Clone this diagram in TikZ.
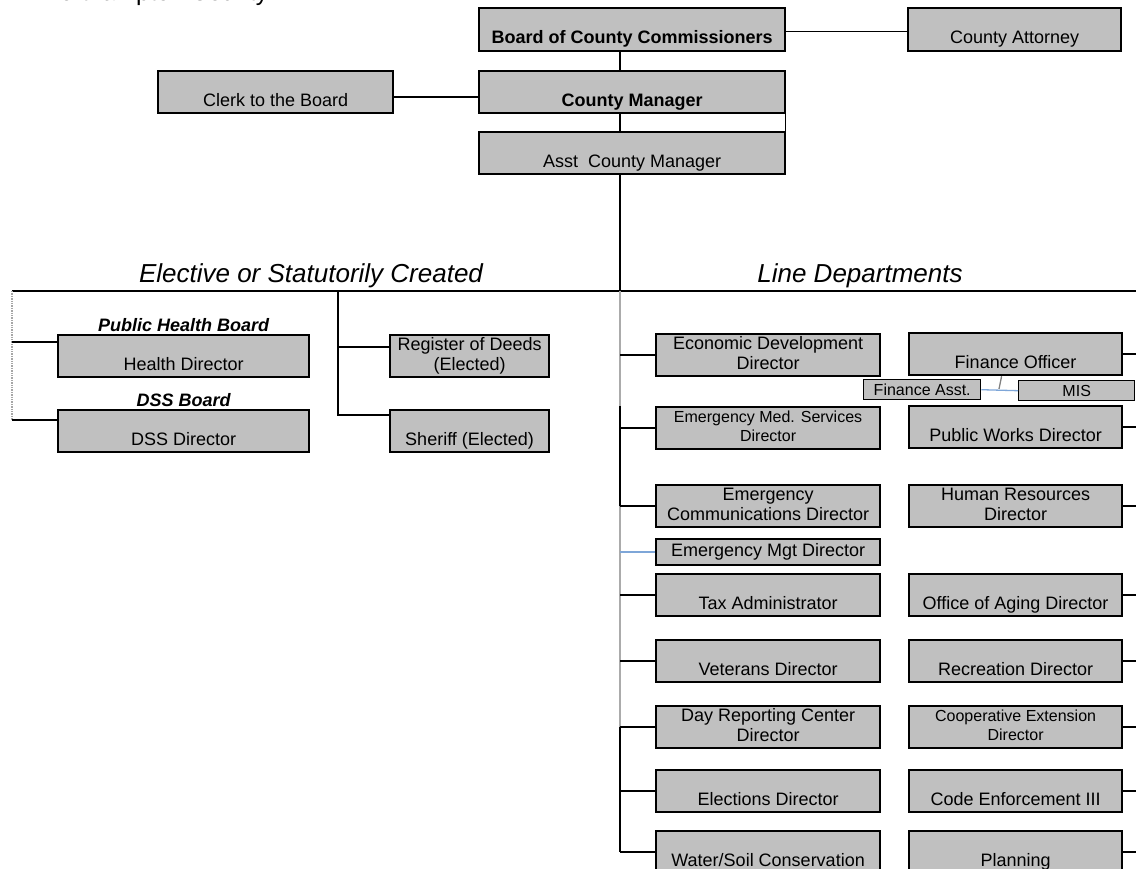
\documentclass[tikz,border=0pt]{standalone}
\usepackage{fontspec}
\setmainfont{Liberation Sans}
\usetikzlibrary{positioning}
\definecolor{boxgray}{HTML}{C0C0C0}
\definecolor{linkblue}{HTML}{7EA6D8}
\definecolor{trunkgray}{HTML}{ABABAB}
\tikzset{
    box/.style={draw, fill=boxgray, line width=2.2pt, inner sep=0pt, align=center,
        anchor=north west, minimum height=42pt, font=\fontsize{18}{20}\selectfont},
    lcol/.style={minimum width=224pt},
    rcol/.style={minimum width=213pt},
    smallbox/.style={draw, fill=boxgray, line width=1.4pt, inner sep=0pt, anchor=north west,
        minimum height=20pt, font=\fontsize{16}{18}\selectfont},
    link/.style={line width=1.3pt, draw=black},
    heading/.style={font=\fontsize{26}{30}\selectfont\itshape},
    boardname/.style={font=\fontsize{18}{20}\selectfont\bfseries\itshape, inner sep=1pt},
}
\begin{document}
\begin{tikzpicture}[x=1pt, y=-1pt]
    \useasboundingbox (0,0) rectangle (1136,869);
    \clip (0,0) rectangle (1136,869);
    \node[anchor=base west, inner sep=0pt, font=\fontsize{24.5}{28}\selectfont] (title) at (42,1) {Northampton County};

    % top of the chart
    \node[box, minimum width=306pt, minimum height=43pt, font=\fontsize{18}{20}\selectfont\bfseries] (board) at (478,7) {\strut\\\strut Board of County Commissioners};
    \node[box, rcol, minimum height=43pt] (attorney) at (907,7) {\strut\\\strut County Attorney};
    \node[box, minimum width=235pt] (clerk) at (157,70) {\strut\\\strut Clerk to the Board};
    \node[box, minimum width=306pt, font=\fontsize{18}{20}\selectfont\bfseries] (cm) at (478,70) {\strut\\\strut County Manager};
    \node[box, minimum width=306pt] (asst) at (478,131) {\strut\\\strut Asst~~County Manager};

    \coordinate (trunk) at (620,291);
    \coordinate (hl) at (12,291);
    \coordinate (hr) at (1136,291);
    \coordinate (redge) at (1136,0);
    \coordinate (elect) at (338,291);

    \draw[link] (board.south -| trunk) -- (cm.north -| trunk);
    \draw[link] (cm.south -| trunk) -- (asst.north -| trunk);
    \draw[link] (asst.south -| trunk) -- (trunk);
    \draw[link] ([yshift=-2pt]board.east) -- ([yshift=-2pt]board.east -| attorney.west);
    \draw[link] ([yshift=-5pt]clerk.east) -- ([yshift=-5pt]clerk.east -| cm.west);
    \draw[line width=0.8pt] ([xshift=-1pt]cm.south east) -- ([xshift=-1pt]asst.north east);
    \draw[link] (hl) -- (hr);

    \node[heading] (elective) at (311,276) {Elective or Statutorily Created};
    \node[heading] (linedep) at (860,276) {Line Departments};

    % elective side
    \node[box, minimum width=251pt] (health) at (57,334) {\strut\\\strut Health Director};
    \node[boardname, above=1pt of health] (phb) {Public Health Board};
    \node[box, minimum width=251pt] (dss) at (57,409) {\strut\\\strut DSS Director};
    \node[boardname, above=1pt of dss] (dssb) {DSS Board};
    \node[box, minimum width=159pt] (deeds) at (389,334) {\strut Register of Deeds\\\strut(Elected)};
    \node[box, minimum width=159pt] (sheriff) at (389,409) {\strut\\\strut Sheriff (Elected)};

    \coordinate (healthin) at ([yshift=-8pt]health.north west);
    \coordinate (dssin) at ([yshift=-11pt]dss.north west);
    \coordinate (deedsin) at ([yshift=-13pt]deeds.north west);
    \coordinate (sherin) at ([yshift=-6pt]sheriff.north west);
    \draw[gray!70, densely dotted, line width=1.4pt] (hl) -- (dssin -| hl);
    \draw[link] (healthin -| hl) -- (healthin);
    \draw[link] (dssin -| hl) -- (dssin);
    \draw[link] (elect) -- (sherin -| elect) -- (sherin);
    \draw[link] (deedsin -| elect) -- (deedsin);

    % line departments
    \node[box, lcol] (econ) at (655,333) {\strut Economic Development\\\strut Director};
    \node[box, rcol] (finance) at (908,332) {\strut\\\strut Finance Officer};
    \node[smallbox, minimum width=117pt] (finasst) at (863,379) {Finance Asst.};
    \node[smallbox, minimum width=116pt] (mis) at (1018,380) {MIS};
    \node[box, lcol, font=\fontsize{16}{19}\selectfont] (ems) at (655,406) {\strut Emergency Med. Services\\\strut Director};
    \node[box, rcol] (works) at (908,405) {\strut\\\strut Public Works Director};
    \node[box, lcol] (emcomm) at (655,484) {\strut Emergency\\\strut Communications Director};
    \node[box, rcol] (hr) at (908,484) {\strut Human Resources\\\strut Director};
    \node[box, lcol, minimum height=26pt] (emgt) at (655,538) {Emergency Mgt Director};
    \node[box, lcol] (tax) at (655,573) {\strut\\\strut Tax Administrator};
    \node[box, rcol] (aging) at (908,573) {\strut\\\strut Office of Aging Director};
    \node[box, lcol] (vet) at (655,639) {\strut\\\strut Veterans Director};
    \node[box, rcol] (rec) at (908,639) {\strut\\\strut Recreation Director};
    \node[box, lcol] (dayrep) at (655,705) {\strut Day Reporting Center\\\strut Director};
    \node[box, rcol, font=\fontsize{16}{19}\selectfont] (coop) at (908,705) {\strut Cooperative Extension\\\strut Director};
    \node[box, lcol] (elections) at (655,769) {\strut\\\strut Elections Director};
    \node[box, rcol] (code) at (908,769) {\strut\\\strut Code Enforcement III};
    \node[box, lcol] (water) at (655,830) {\strut\\\strut Water/Soil Conservation};
    \node[box, rcol] (plan) at (908,830) {\strut\\\strut Planning};

    \draw[link, draw=trunkgray] (trunk) -- (ems.north -| trunk);
    \draw[link] (ems.north -| trunk) -- (emcomm.west -| trunk);
    \draw[link, draw=trunkgray] (emcomm.west -| trunk) -- (dayrep.west -| trunk);
    \draw[link] (dayrep.west -| trunk) -- (water.west -| trunk);
    \foreach \n in {econ,ems,emcomm,tax,vet,dayrep,elections,water}
        \draw[link] (\n.west) -- (\n.west -| trunk);
    \draw[link, draw=linkblue] (emgt.west) -- (emgt.west -| trunk);
    \foreach \n in {finance,works,hr,aging,rec,coop,code,plan}
        \draw[link] (\n.east) -- (\n.east -| redge);

    \coordinate (finjoin) at (999,389);
    \draw[link, draw=gray] ([xshift=-14pt]finance.south) -- (finjoin);
    \draw[link, draw=linkblue] (finasst.east) -- (mis.west);
\end{tikzpicture}
\end{document}
